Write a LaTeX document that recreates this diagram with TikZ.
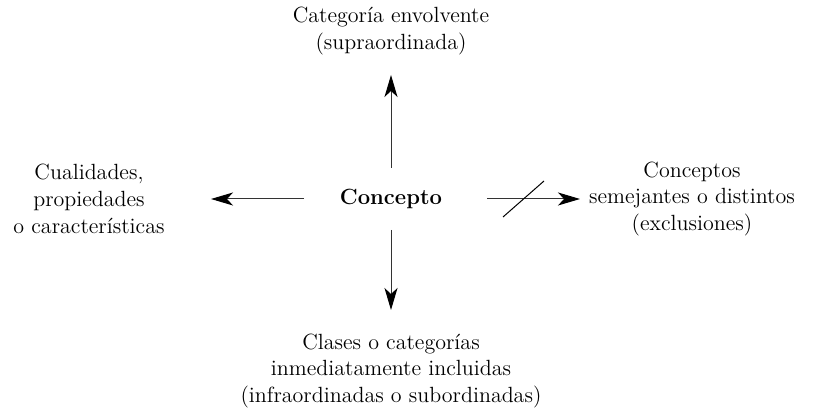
\documentclass[tikz,border=0pt]{standalone}
\usepackage{tikz}
\usetikzlibrary{arrows.meta,positioning}

\begin{document}
\begin{tikzpicture}[x=0.5pt,y=-0.5pt,
  txt/.style={align=center,inner sep=0pt,font=\fontsize{11}{13.4}\selectfont},
  flecha/.style={draw=black!80,line width=0.5pt,
    -{Stealth[length=11pt,width=6.5pt,inset=3pt,black]}}]
\useasboundingbox (0,0) rectangle (831,415);
%nodos
\node[txt,font=\fontsize{11}{13.4}\selectfont\bfseries] (concepto) at (391,199) {Concepto};
\node[txt] (supra) at (391,31) {Categoría envolvente\\(supraordinada)};
\node[txt] (cual) at (89,199) {Cualidades,\\propiedades\\o características};
\node[txt] (semej) at (692,199) {Conceptos\\semejantes o distintos\\(exclusiones)};
\node[txt] (infra) at (391,371) {Clases o categorías\\inmediatamente incluidas\\(infraordinadas o subordinadas)};
%extremos de flechas
\coordinate (c-up) at (391,168);
\coordinate (s-up) at (391,75);
\coordinate (c-dn) at (391,230);
\coordinate (s-dn) at (391,310);
\coordinate (c-lf) at (304,199);
\coordinate (s-lf) at (211,199);
\coordinate (c-rt) at (487,199);
\coordinate (s-rt) at (580,199);
\draw[flecha] (c-up) -- (s-up);
\draw[flecha] (c-dn) -- (s-dn);
\draw[flecha] (c-lf) -- (s-lf);
\draw[flecha] (c-rt) -- (s-rt);
%exclusion
\draw[line width=0.5pt] (503,217) -- (544,181);
\end{tikzpicture}
\end{document}
